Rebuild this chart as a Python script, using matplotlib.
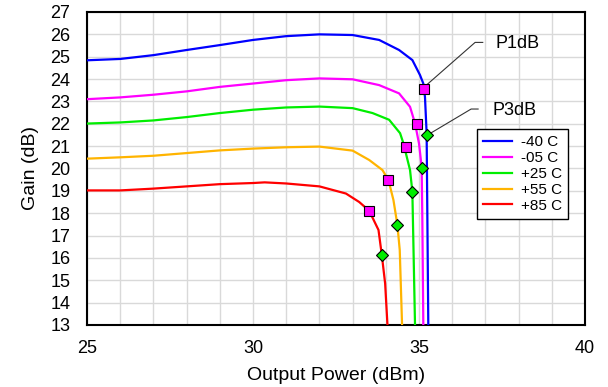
import numpy as np
import matplotlib
matplotlib.use('Agg')
import matplotlib.pyplot as plt

plt.rcParams['font.family'] = ['Liberation Sans', 'DejaVu Sans']

# curvas de ganancia por temperatura
labels = ['-40 C', '-05 C', '+25 C', '+55 C', '+85 C']
colors = ['#0000FF', '#FF00FF', '#00EE00', '#FFB400', '#FF0000']

x_m40 = [25, 26, 27, 28, 29, 30, 31, 32, 33, 33.8, 34.4, 34.8, 35.03, 35.13, 35.18, 35.23, 35.28]
y_m40 = [24.84, 24.9, 25.07, 25.3, 25.52, 25.75, 25.92, 26.0, 25.97, 25.75, 25.3, 24.85, 24.18, 23.8, 23.2, 21.57, 13.0]

x_m05 = [25, 26, 27, 28, 29, 30, 31, 32, 33, 33.8, 34.4, 34.73, 34.88, 35.0, 35.08, 35.1, 35.13]
y_m05 = [23.1, 23.18, 23.3, 23.45, 23.65, 23.8, 23.95, 24.03, 23.99, 23.73, 23.36, 22.76, 22.02, 21.12, 20.07, 17.8, 13.0]

x_p25 = [25, 26, 27, 28, 29, 30, 31, 32, 33, 33.6, 34.1, 34.43, 34.53, 34.63, 34.73, 34.8, 34.88]
y_p25 = [22.01, 22.06, 22.15, 22.3, 22.48, 22.63, 22.73, 22.77, 22.7, 22.48, 22.18, 21.58, 21.13, 20.53, 19.93, 18.96, 13.0]

x_p55 = [25, 26, 27, 28, 29, 30, 31, 32, 33, 33.5, 33.9, 34.08, 34.23, 34.35, 34.42, 34.49]
y_p55 = [20.44, 20.5, 20.57, 20.69, 20.81, 20.89, 20.95, 20.98, 20.8, 20.38, 19.93, 19.48, 18.59, 17.47, 16.35, 13.0]

x_p85 = [25, 26, 27, 28, 29, 30, 30.35, 31, 32, 32.8, 33.2, 33.5, 33.78, 33.88, 33.98, 34.05]
y_p85 = [19.02, 19.02, 19.1, 19.2, 19.3, 19.35, 19.38, 19.33, 19.2, 18.88, 18.5, 18.11, 17.25, 16.13, 14.86, 13.0]

# puntos P1dB y P3dB
p1_x = [35.15, 34.93, 34.62, 34.08, 33.5]
p1_y = [23.55, 22.0, 20.97, 19.48, 18.11]
p3_x = [35.25, 35.1, 34.8, 34.35, 33.88]
p3_y = [21.5, 20.0, 18.96, 17.47, 16.13]

series = [(x_m40, y_m40), (x_m05, y_m05), (x_p25, y_p25), (x_p55, y_p55), (x_p85, y_p85)]

fig = plt.figure(figsize=(6.08, 3.87), dpi=100)
ax = fig.add_axes([87/608, 62/387, 498/608, 313/387])

for (xs, ys), lab, c in zip(series, labels, colors):
    ax.plot(xs, ys, color=c, lw=1.6, label=lab, zorder=3)

ax.plot(p1_x, p1_y, ls='none', marker='s', ms=7, mfc='#FF00FF', mec='black', mew=0.8, zorder=4)
ax.plot(p3_x, p3_y, ls='none', marker='D', ms=6, mfc='#00EE00', mec='black', mew=0.8, zorder=4)

# lineas guia de las etiquetas
ax.plot([p1_x[0] + 0.05, 36.69, 36.92], [p1_y[0] + 0.15, 25.64, 25.64], color='#333333', lw=0.8, zorder=2)
ax.text(37.3, 25.57, 'P1dB', fontsize=13, va='center', ha='left')
ax.plot([p3_x[0] + 0.1, 36.57, 36.78], [p3_y[0] + 0.08, 22.66, 22.66], color='#333333', lw=0.8, zorder=2)
ax.text(37.2, 22.6, 'P3dB', fontsize=13, va='center', ha='left')

ax.set_xlim(25, 40)
ax.set_ylim(13, 27)
ax.set_xticks([25, 30, 35, 40])
ax.set_xticks(np.arange(25, 41, 1), minor=True)
ax.set_yticks(np.arange(13, 28, 1))
ax.grid(True, which='both', color='#d9d9d9', lw=1, zorder=0)
ax.set_axisbelow(True)
ax.tick_params(which='both', length=0, labelsize=13)
ax.tick_params(axis='y', pad=12)
ax.tick_params(axis='x', pad=11)
for s in ax.spines.values():
    s.set_linewidth(1.5)

ax.set_xlabel('Output Power (dBm)', fontsize=14, labelpad=7)
ax.set_ylabel('Gain (dB)', fontsize=14, labelpad=8)

leg = ax.legend(loc='upper left', bbox_to_anchor=(0.7825, 0.625), fontsize=11,
                frameon=True, fancybox=False, edgecolor='black', framealpha=1,
                handlelength=1.9, handletextpad=0.6, labelspacing=0.12,
                borderpad=0.4, borderaxespad=0)
leg.get_frame().set_linewidth(1.0)

fig.savefig('out.png', dpi=100)
